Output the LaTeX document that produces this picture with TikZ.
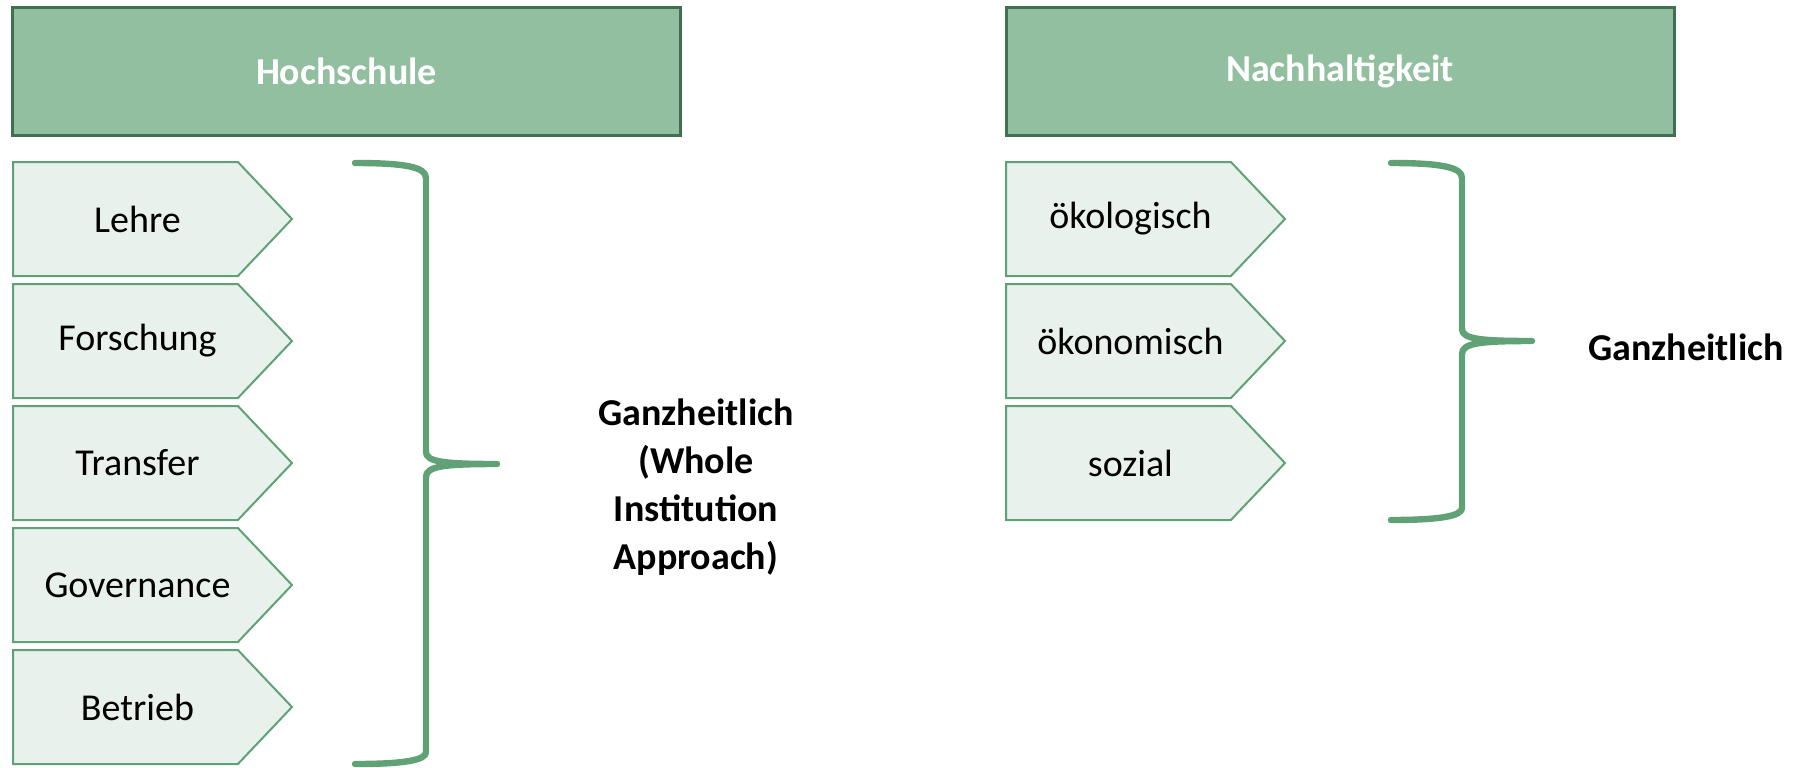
\documentclass[tikz,border=0pt]{standalone}
\usepackage{fontspec}
\setmainfont{Carlito}
\usetikzlibrary{positioning}
\usetikzlibrary{shapes.symbols}
\definecolor{headfill}{RGB}{146,191,160}
\definecolor{headline}{RGB}{65,112,80}
\definecolor{entryfill}{RGB}{232,241,235}
\definecolor{bracegreen}{RGB}{96,161,118}

\begin{document}
\begin{tikzpicture}[x=0.5pt, y=-0.5pt,
	head/.style={rectangle, draw=headline, line width=1.5pt, fill=headfill, minimum width=334pt, minimum height=64pt, text=white, font=\fontsize{19}{23}\selectfont\bfseries},
	entry/.style={signal, signal to=east, signal pointer angle=93, draw=bracegreen, line width=1pt, fill=entryfill, minimum width=139.5pt, minimum height=57pt, inner sep=0pt, font=\fontsize{19}{23}\selectfont, execute at begin node={\hspace*{12pt}}},
	brace/.style={draw=bracegreen, line width=3.2pt, line cap=round, line join=round},
	sumtext/.style={align=center, font=\fontsize{19}{24}\selectfont\bfseries}]
	\useasboundingbox (0,0) rectangle (1809,767);
	\node [head] (hs) at (346.5,71) {Hochschule};
	\node [head] (nh) at (1340,71) {Nachhaltigkeit};
	\node [entry, anchor=north west] (lehre) at (12,161) {Lehre};
	\node [entry, below=3pt of lehre] (forschung) {Forschung};
	\node [entry, below=3pt of forschung] (transfer) {Transfer};
	\node [entry, below=3pt of transfer] (governance) {Governance};
	\node [entry, below=3pt of governance] (betrieb) {Betrieb};
	\node [entry, anchor=north west] (oekol) at (1005,161) {ökologisch};
	\node [entry, below=3pt of oekol] (oekon) {ökonomisch};
	\node [entry, below=3pt of oekon] (sozial) {sozial};
	\draw [brace] (355,163) .. controls (405,163) and (426,167) .. (426,178) -- (426,452) .. controls (426,462) and (445,464) .. (497,464) .. controls (445,464) and (426,466) .. (426,477) -- (426,752) .. controls (426,760) and (405,764) .. (355,764);
	\draw [brace] (1391,163) .. controls (1440,163) and (1462,167) .. (1462,178) -- (1462,329) .. controls (1462,339) and (1480,341) .. (1532,341) .. controls (1480,341) and (1462,343) .. (1462,354) -- (1462,508) .. controls (1462,516) and (1440,520) .. (1391,520);
	\node [sumtext] (whole) at (696,487) {Ganzheitlich\\(Whole\\Institution\\Approach)};
	\node [sumtext] (ganz) at (1686,347) {Ganzheitlich};
\end{tikzpicture}
\end{document}
